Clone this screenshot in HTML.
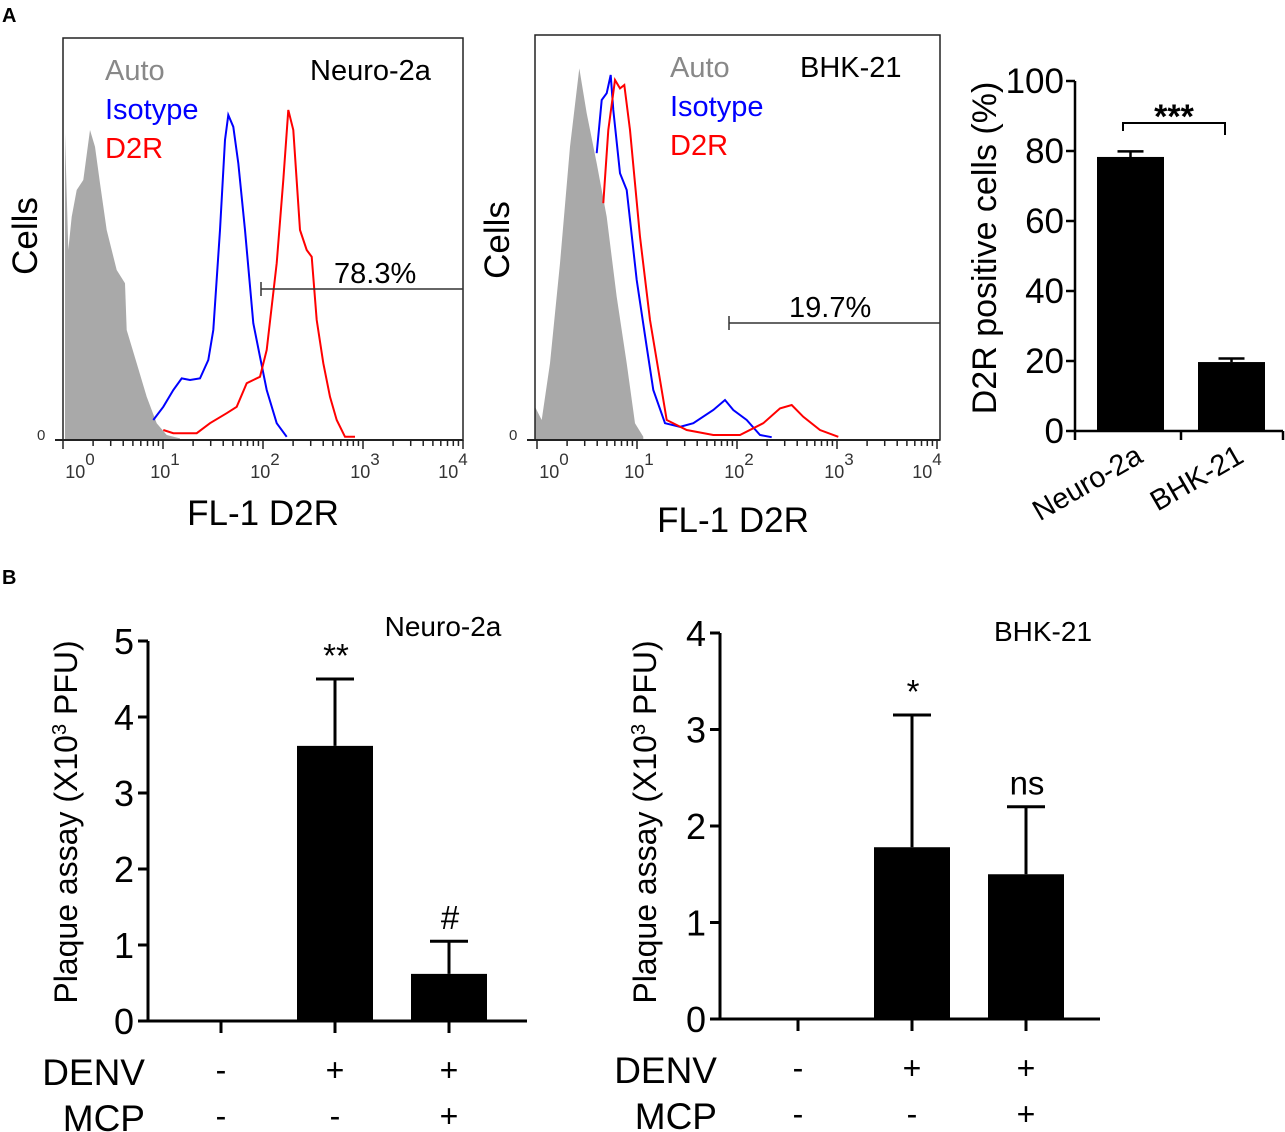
<!DOCTYPE html>
<html><head><meta charset="utf-8"><style>
html,body{margin:0;padding:0;background:#fff}
svg{display:block;font-family:"Liberation Sans",Arial,sans-serif}
</style></head><body>
<svg id="fig" width="1285" height="1132" viewBox="0 0 1285 1132" xmlns="http://www.w3.org/2000/svg">
<text x="2" y="22" font-size="20" font-weight="bold">A</text>
<text x="2" y="584" font-size="20" font-weight="bold">B</text>
<g id="g"></g>
</svg>
<script>
// ---------- Flow histogram data: [log10 fluorescence, relative count %] ----------
const n2aAutoLog=[0.02,0.053,0.087,0.137,0.203,0.27,0.32,0.37,0.437,0.537,0.62,0.637,0.737,0.837,0.937,1.037,1.17];
const n2aAutoCnt=[76.7,47.5,55.8,62.5,65,77.5,73.3,64.2,52.5,42.5,39.2,27.5,19.2,10.8,4.2,1.25,0.4];
const n2aIsoLog=[0.903,1.003,1.103,1.187,1.27,1.37,1.453,1.503,1.57,1.62,1.653,1.703,1.753,1.82,1.903,1.97,2.037,2.137,2.237];
const n2aIsoCnt=[5,8.3,12.5,15.4,15,15.4,20,27.5,52.5,75,81.25,78.3,69.2,52.5,29.2,20.8,12.5,4.2,0.8];
const n2aD2rLog=[1.003,1.103,1.337,1.47,1.637,1.737,1.837,1.903,1.97,2.037,2.137,2.203,2.253,2.303,2.37,2.437,2.487,2.537,2.603,2.67,2.737,2.82,2.92];
const n2aD2rCnt=[2.5,1.7,1.7,4.2,6.7,8.3,14.2,15,15.8,22.5,44.2,65,82.5,77.5,52.5,47.5,45.8,30,19.2,10.8,5,0.8,0.8];
const bhkAutoLog=[-0.02,0.047,0.13,0.23,0.33,0.423,0.497,0.597,0.697,0.797,0.897,0.98,1.063];
const bhkAutoCnt=[8.3,5,19.2,44.2,73.3,92.9,81.7,69.2,55.8,35.8,19.2,4.2,0.8];
const bhkIsoLog=[0.597,0.647,0.697,0.737,0.763,0.83,0.897,0.997,1.097,1.163,1.28,1.43,1.563,1.763,1.88,1.963,2.097,2.23,2.347];
const bhkIsoCnt=[71.7,85,86.7,91.25,82.5,66.7,62.5,40,23.3,12.5,4.2,3.3,4.2,7.5,10,7.5,5,1.25,0.7];
const bhkD2rLog=[0.663,0.713,0.78,0.83,0.873,0.93,1.03,1.13,1.297,1.497,1.763,2.03,2.263,2.43,2.547,2.663,2.83,3.013];
const bhkD2rCnt=[59.2,77.5,90,87.9,88.75,77.5,50.8,30,5,2.5,1.25,1.25,4.2,7.9,8.75,5.8,2.5,0.8];
const gateLog=[1.98,1.92];
const gatePct=["78.3%","19.7%"];
const decadeLabels=["0","1","2","3","4"];
// ---------- D2R positive bar chart ----------
const posCats=["Neuro-2a","BHK-21"];
const posVals=[78.3,19.7];
const posErr=[1.6,1.0];
const posTicks=[0,20,40,60,80,100];
// ---------- Plaque assays ----------
const plaqueN2aVals=[0,3.62,0.62];
const plaqueN2aErr=[0,0.88,0.43];
const plaqueN2aTicks=[0,1,2,3,4,5];
const plaqueN2aMarks=["","**","#"];
const plaqueBhkVals=[0,1.78,1.5];
const plaqueBhkErr=[0,1.37,0.7];
const plaqueBhkTicks=[0,1,2,3,4];
const plaqueBhkMarks=["","*","ns"];
const denvRow=["-","+","+"];
const mcpRow=["-","-","+"];

const NS="http://www.w3.org/2000/svg";
const root=document.getElementById('g');
function el(tag,attrs,parent,txt){const e=document.createElementNS(NS,tag);for(const k in attrs)e.setAttribute(k,attrs[k]);if(txt!==undefined)e.textContent=txt;(parent||root).appendChild(e);return e;}

function flowPanel(cfg){
  const g=el('g',{});
  
  
  const x=l=>cfg.x0+l*100;
  const y=c=>cfg.yb-c/100*400;
  let d='M'+x(cfg.auto[0][0])+','+cfg.yb;
  cfg.auto[0].forEach((l,i)=>{d+=' L'+x(l).toFixed(1)+','+y(cfg.auto[1][i]).toFixed(1);});
  d+=' L'+x(cfg.auto[0][cfg.auto[0].length-1])+','+cfg.yb+' Z';
  const a=el('path',{d:d,fill:'#a9a9a9',stroke:'none'},g);
  
  
  [[cfg.iso,'#0000ff','isotype-histogram'],[cfg.d2r,'#ff0000','d2r-histogram']].forEach(s=>{
    let p='';s[0][0].forEach((l,i)=>{p+=(i?' L':'M')+x(l).toFixed(1)+','+y(s[0][1][i]).toFixed(1);});
    const pe=el('path',{d:p,fill:'none',stroke:s[1],'stroke-width':2},g);
    
    
  });
  const fr=el('rect',{x:cfg.left,y:cfg.top,width:cfg.right-cfg.left,height:cfg.yb-cfg.top,fill:'none',stroke:'#222','stroke-width':1.5},g);
  
  
  el('line',{x1:cfg.left-8,y1:cfg.yb,x2:cfg.right,y2:cfg.yb,stroke:'#222','stroke-width':2},g);
  for(let dcd=0;dcd<4;dcd++){for(let k=1;k<10;k++){const tx=x(dcd+Math.log10(k));if(tx<cfg.left)continue;el('line',{x1:tx,y1:cfg.yb,x2:tx,y2:cfg.yb+(k==1?9:6),stroke:'#222','stroke-width':1.5},g);}}
  el('line',{x1:x(4),y1:cfg.yb,x2:x(4),y2:cfg.yb+9,stroke:'#222','stroke-width':1.5},g);
  decadeLabels.forEach((t,i)=>{const lx=x(i)+(i==0?17:(i==4?-10:2));
    const tt=el('text',{x:lx,y:cfg.yb+38,'font-size':18,'text-anchor':'middle',fill:'#333'},g);
    
    
    tt.appendChild(document.createTextNode('10'));
    el('tspan',{dy:-13,'font-size':17},tt,t);});
  el('text',{x:cfg.left-26,y:cfg.yb,'font-size':15,fill:'#333'},g,'0');
  const gx=x(gateLog[cfg.idx]);
  const gl=el('path',{d:`M${gx},${cfg.gy-7} V${cfg.gy+7} M${gx},${cfg.gy} H${cfg.right}`,stroke:'#333','stroke-width':1.5,fill:'none'},g);
  
  
  const gt=el('text',{x:cfg.gtx,y:cfg.gy-6,'font-size':29},g,gatePct[cfg.idx]);
  
  
  [['Auto','#888'],['Isotype','#0000ff'],['D2R','#ff0000']].forEach((l,i)=>{
    const t=el('text',{x:cfg.lx,y:cfg.top+42+i*39,'font-size':29,fill:l[1]},g,l[0]);
    
    });
  const ti=el('text',{x:cfg.tx,y:cfg.top+42,'font-size':29},g,cfg.title);
  
  
  const yl=el('text',{transform:`translate(${cfg.left-26},${cfg.ylc}) rotate(-90)`,'font-size':35,'text-anchor':'middle'},g,'Cells');
  
  
  const xl=el('text',{x:cfg.xlc,y:cfg.xly,'font-size':35,'text-anchor':'middle'},g,'FL-1 D2R');
  
  
}
flowPanel({name:'flow-neuro2a',idx:0,x0:63,left:63,right:463,top:38,yb:440,auto:[n2aAutoLog,n2aAutoCnt],iso:[n2aIsoLog,n2aIsoCnt],d2r:[n2aD2rLog,n2aD2rCnt],gy:289,gtx:334,lx:105,tx:310,title:'Neuro-2a',ylc:236,xlc:263,xly:525});
flowPanel({name:'flow-bhk21',idx:1,x0:537,left:535,right:940,top:35,yb:440,auto:[bhkAutoLog,bhkAutoCnt],iso:[bhkIsoLog,bhkIsoCnt],d2r:[bhkD2rLog,bhkD2rCnt],gy:323,gtx:789,lx:670,tx:800,title:'BHK-21',ylc:240,xlc:733,xly:532});

(function(){
  const g=el('g',{});
  
  
  const ax=1075,y0=431,yTop=81;
  const y=v=>y0-(v/100)*(y0-yTop);
  const bx=[1097,1198],bw=67;
  posVals.forEach((v,i)=>{
    const eb=el('path',{d:`M${bx[i]+bw/2},${y(v)} V${y(v+posErr[i])} M${bx[i]+bw/2-13},${y(v+posErr[i])} H${bx[i]+bw/2+13}`,stroke:'#000','stroke-width':2.5,fill:'none'},g);
    
    
    const r=el('rect',{x:bx[i],y:y(v),width:bw,height:y0-y(v),fill:'#000'},g);
    
    
    const t=el('text',{transform:`translate(${bx[i]+bw/2+14},${y0+30}) rotate(-30)`,'font-size':29,'text-anchor':'end'},g,posCats[i]);
    
    
  });
  el('line',{x1:ax,y1:y0,x2:1283,y2:y0,stroke:'#000','stroke-width':2.5},g);
  el('line',{x1:ax,y1:yTop,x2:ax,y2:y0,stroke:'#000','stroke-width':2.5},g);
  [ax,1181,1283].forEach(tx=>el('line',{x1:tx,y1:y0,x2:tx,y2:y0+9,stroke:'#000','stroke-width':2.5},g));
  posTicks.forEach(t=>{el('line',{x1:ax-9,y1:y(t),x2:ax,y2:y(t),stroke:'#000','stroke-width':2.5},g);
    const tl=el('text',{x:ax-11,y:y(t)+12,'font-size':35,'text-anchor':'end'},g,t);
    
    });
  el('path',{d:`M1123,131 V123 H1225 V135`,stroke:'#000','stroke-width':2,fill:'none'},g);
  const s=el('text',{x:1174,y:128,'font-size':34,'font-weight':'bold','text-anchor':'middle'},g,'***');
  
  
  const yl=el('text',{transform:`translate(996,248) rotate(-90)`,'font-size':34,'text-anchor':'middle'},g,'D2R positive cells (%)');
  
  
})();

function plaque(cfg){
  const g=el('g',{});
  
  
  const y=v=>cfg.y0-v*cfg.ppu;
  const cx=i=>cfg.c0+i*cfg.step;
  cfg.vals.forEach((v,i)=>{
    if(v>0){
      const top=y(v+cfg.err[i]);
      const eb=el('path',{d:`M${cx(i)},${y(v)} V${top} M${cx(i)-19},${top} H${cx(i)+19}`,stroke:'#000','stroke-width':3,fill:'none'},g);
      
      
      const r=el('rect',{x:cx(i)-38,y:y(v),width:76,height:cfg.y0-y(v),fill:'#000'},g);
      
      
      const m=el('text',{x:cx(i)+1,y:top-12,'font-size':33,'text-anchor':'middle'},g,cfg.marks[i]);
      
      
    }
    el('line',{x1:cx(i),y1:cfg.y0,x2:cx(i),y2:cfg.y0+12,stroke:'#000','stroke-width':3},g);
    const d=el('text',{x:cx(i),y:cfg.y0+60,'font-size':32,'text-anchor':'middle'},g,denvRow[i]);
    
    
    const m2=el('text',{x:cx(i),y:cfg.y0+106,'font-size':32,'text-anchor':'middle'},g,mcpRow[i]);
    
    
  });
  el('line',{x1:cfg.ax,y1:cfg.y0,x2:cfg.xr,y2:cfg.y0,stroke:'#000','stroke-width':3},g);
  el('line',{x1:cfg.ax,y1:y(cfg.ticks[cfg.ticks.length-1]),x2:cfg.ax,y2:cfg.y0,stroke:'#000','stroke-width':3},g);
  cfg.ticks.forEach(t=>{el('line',{x1:cfg.ax-10,y1:y(t),x2:cfg.ax,y2:y(t),stroke:'#000','stroke-width':3},g);
    const tl=el('text',{x:cfg.ax-14,y:y(t)+13,'font-size':36,'text-anchor':'end'},g,t);
    
    });
  const dl=el('text',{x:cfg.ax-3,y:cfg.y0+64,'font-size':37,'text-anchor':'end'},g,'DENV');
  
  
  const ml=el('text',{x:cfg.ax-3,y:cfg.y0+110,'font-size':37,'text-anchor':'end'},g,'MCP');
  
  
  const ti=el('text',{x:cfg.tx,y:cfg.ty,'font-size':28,'text-anchor':'middle'},g,cfg.title);
  
  
  const yl=el('text',{transform:`translate(${cfg.ylx},${cfg.ylc}) rotate(-90)`,'font-size':32,'text-anchor':'middle'},g);
  
  
  yl.appendChild(document.createTextNode('Plaque assay (X10'));
  el('tspan',{dy:-11,'font-size':20},yl,'3');
  el('tspan',{dy:11},yl,' PFU)');
}
plaque({name:'plaque-neuro2a',vals:plaqueN2aVals,err:plaqueN2aErr,ticks:plaqueN2aTicks,marks:plaqueN2aMarks,y0:1021,ppu:76,ax:148,xr:527,c0:221,step:114,tx:443,ty:636,title:'Neuro-2a',ylx:77,ylc:822});
plaque({name:'plaque-bhk21',vals:plaqueBhkVals,err:plaqueBhkErr,ticks:plaqueBhkTicks,marks:plaqueBhkMarks,y0:1019,ppu:96.5,ax:720,xr:1100,c0:798,step:114,tx:1043,ty:641,title:'BHK-21',ylx:656,ylc:822});
</script>
</body></html>
